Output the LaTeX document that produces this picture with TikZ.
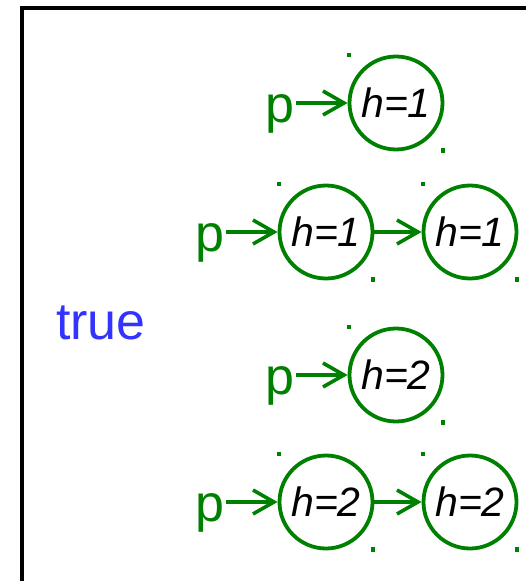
\documentclass[tikz,border=0pt]{standalone}
\usepackage{fontspec}
\setmainfont{Liberation Sans}
\usetikzlibrary{arrows.meta}

\definecolor{listgreen}{RGB}{0,128,0}
\definecolor{trueblue}{RGB}{51,51,255}

\tikzset{
  hnode/.style={circle, draw=listgreen, line width=3.8pt, minimum size=93pt, inner sep=0pt,
    font=\fontsize{41}{41}\selectfont\itshape},
  ptr/.style={text=listgreen, inner xsep=2pt, inner ysep=0pt, anchor=base west,
    font=\fontsize{52}{52}\selectfont},
  link/.style={listgreen, line width=3.6pt, -{Straight Barb[length=21pt,width=24pt]}},
}

\begin{document}
\begin{tikzpicture}[x=1pt, y=-1pt]
        \clip (0,0) rectangle (526,581);

        % Frame
        \draw[line width=4.5pt] (22,620) -- (22,8) -- (620,8);

        % Label
        \node[text=trueblue, inner sep=0pt, anchor=base west, font=\fontsize{52}{52}\selectfont] (cond) at (56,339) {true};

        % Lists
        \node[hnode] (h1) at (396,103) {h=1};
        \node[ptr] (p1) at (263,122) {p};

        \node[hnode] (h2a) at (326,232) {h=1};
        \node[hnode] (h2b) at (470,232) {h=1};
        \node[ptr] (p2) at (193,251) {p};

        \node[hnode] (h3) at (396,375) {h=2};
        \node[ptr] (p3) at (263,394) {p};

        \node[hnode] (h4a) at (326,502) {h=2};
        \node[hnode] (h4b) at (470,502) {h=2};
        \node[ptr] (p4) at (193,521) {p};

        % Pointers
        \draw[link] (p1.east |- h1.west) -- (h1);
        \draw[link] (p2.east |- h2a.west) -- (h2a);
        \draw[link] (h2a) -- (h2b);
        \draw[link] (p3.east |- h3.west) -- (h3);
        \draw[link] (p4.east |- h4a.west) -- (h4a);
        \draw[link] (h4a) -- (h4b);

        % Corner marks
        \foreach \n in {h1, h2a, h2b, h3, h4a, h4b} {
          \fill[listgreen] (\n.west |- \n.north) ++(-1,-2) rectangle ++(4.5,4.5);
          \fill[listgreen] (\n.east |- \n.south) ++(-3.5,-3) rectangle ++(4.5,4.5);
        }
    \end{tikzpicture}
\end{document}
